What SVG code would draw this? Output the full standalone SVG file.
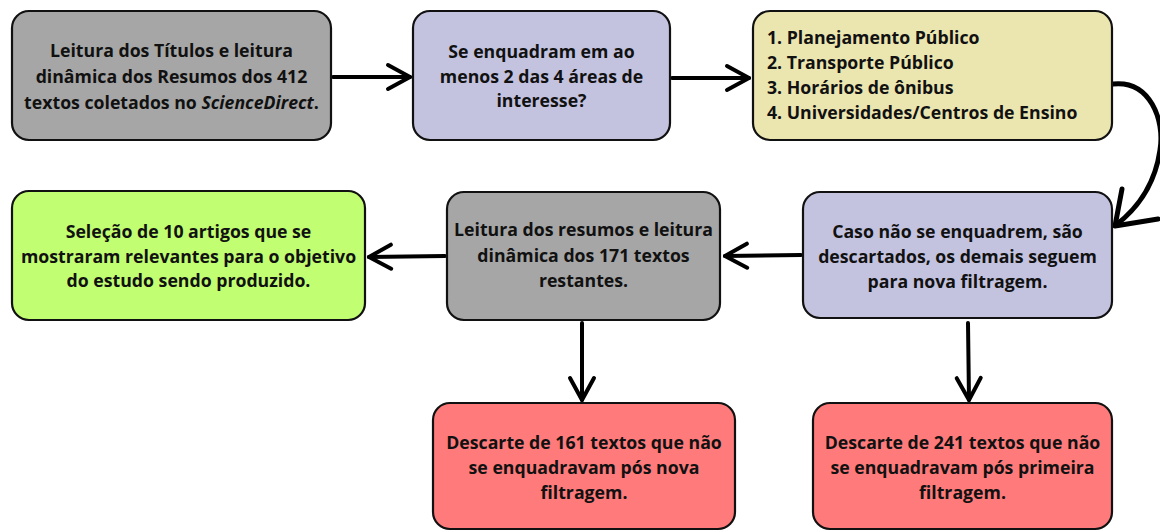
<svg xmlns="http://www.w3.org/2000/svg" width="1160" height="531" viewBox="0 0 1160 531">
<style>
.box{stroke:#111;stroke-width:2.2}
.t{font-family:"Open Sans","Noto Sans","DejaVu Sans",sans-serif;font-weight:700;font-size:17.7px;fill:#111;text-anchor:middle}
.tl{text-anchor:start}
.con{fill:none;stroke:#000;stroke-width:4;stroke-linecap:round;stroke-linejoin:round}
</style>
<defs>
<marker id="ah" markerUnits="userSpaceOnUse" viewBox="-26 -16 30 32" refX="0" refY="0" markerWidth="30" markerHeight="32" orient="auto">
<path d="M-22,-12 L0,0 L-22,12" fill="none" stroke="#000" stroke-width="4" stroke-linecap="round" stroke-linejoin="round"/>
</marker>
</defs>
<rect width="1160" height="531" fill="#fff"/>
<g id="connectors">
<path class="con" d="M333,77 L410,77" marker-end="url(#ah)"/>
<path class="con" d="M672,78 L749,78" marker-end="url(#ah)"/>
<path class="con" d="M1113,84 C1150,80 1165,120 1160,150 C1155,185 1138,208 1116,225" style="stroke-width:5"/>
<path class="con" d="M1122,189 L1115,226 L1158,219" style="stroke-width:5"/>
<path class="con" d="M801,255 L725,256" marker-end="url(#ah)"/>
<path class="con" d="M445,256 L369,257" marker-end="url(#ah)"/>
<path class="con" d="M582,323 L582,400" marker-end="url(#ah)"/>
<path class="con" d="M968,323 L969,400" marker-end="url(#ah)"/>
</g>
<g id="n1">
<rect class="box" x="12" y="11" width="319" height="129" rx="17" fill="#a6a6a6"/>
<text class="t" x="171.5" y="57">Leitura dos Títulos e leitura</text>
<text class="t" x="171.5" y="83">dinâmica dos Resumos dos 412</text>
<text class="t" x="171.5" y="109">textos coletados no <tspan font-style="italic">ScienceDirect</tspan>.</text>
</g>
<g id="n2">
<rect class="box" x="413" y="11" width="257" height="129" rx="17" fill="#c3c3df"/>
<text class="t" x="541.5" y="58">Se enquadram em ao</text>
<text class="t" x="541.5" y="83">menos 2 das 4 áreas de</text>
<text class="t" x="541.5" y="107">interesse?</text>
</g>
<g id="n3">
<rect class="box" x="753" y="11" width="359" height="129" rx="17" fill="#ebe5b0"/>
<text class="t tl" x="767" y="44">1. Planejamento Público</text>
<text class="t tl" x="767" y="69">2. Transporte Público</text>
<text class="t tl" x="767" y="94">3. Horários de ônibus</text>
<text class="t tl" x="767" y="119">4. Universidades/Centros de Ensino</text>
</g>
<g id="n4">
<rect class="box" x="803" y="192" width="309" height="126" rx="17" fill="#c3c3df"/>
<text class="t" x="957.5" y="238">Caso não se enquadrem, são</text>
<text class="t" x="957.5" y="263">descartados, os demais seguem</text>
<text class="t" x="957.5" y="288">para nova filtragem.</text>
</g>
<g id="n5">
<rect class="box" x="12" y="191" width="353" height="129" rx="17" fill="#c1fe72"/>
<text class="t" x="188.5" y="238">Seleção de 10 artigos que se</text>
<text class="t" x="188.5" y="263">mostraram relevantes para o objetivo</text>
<text class="t" x="188.5" y="287">do estudo sendo produzido.</text>
</g>
<g id="n6">
<rect class="box" x="447" y="192" width="273" height="128" rx="17" fill="#a6a6a6"/>
<text class="t" x="583.5" y="236">Leitura dos resumos e leitura</text>
<text class="t" x="583.5" y="262">dinâmica dos 171 textos</text>
<text class="t" x="583.5" y="287">restantes.</text>
</g>
<g id="n7">
<rect class="box" x="433" y="403" width="302" height="126" rx="17" fill="#ff7b7b"/>
<text class="t" x="584" y="449">Descarte de 161 textos que não</text>
<text class="t" x="584" y="474">se enquadravam pós nova</text>
<text class="t" x="584" y="499">filtragem.</text>
</g>
<g id="n8">
<rect class="box" x="813" y="403" width="299" height="126" rx="17" fill="#ff7b7b"/>
<text class="t" x="962.5" y="449">Descarte de 241 textos que não</text>
<text class="t" x="962.5" y="474">se enquadravam pós primeira</text>
<text class="t" x="962.5" y="499">filtragem.</text>
</g>
</svg>
